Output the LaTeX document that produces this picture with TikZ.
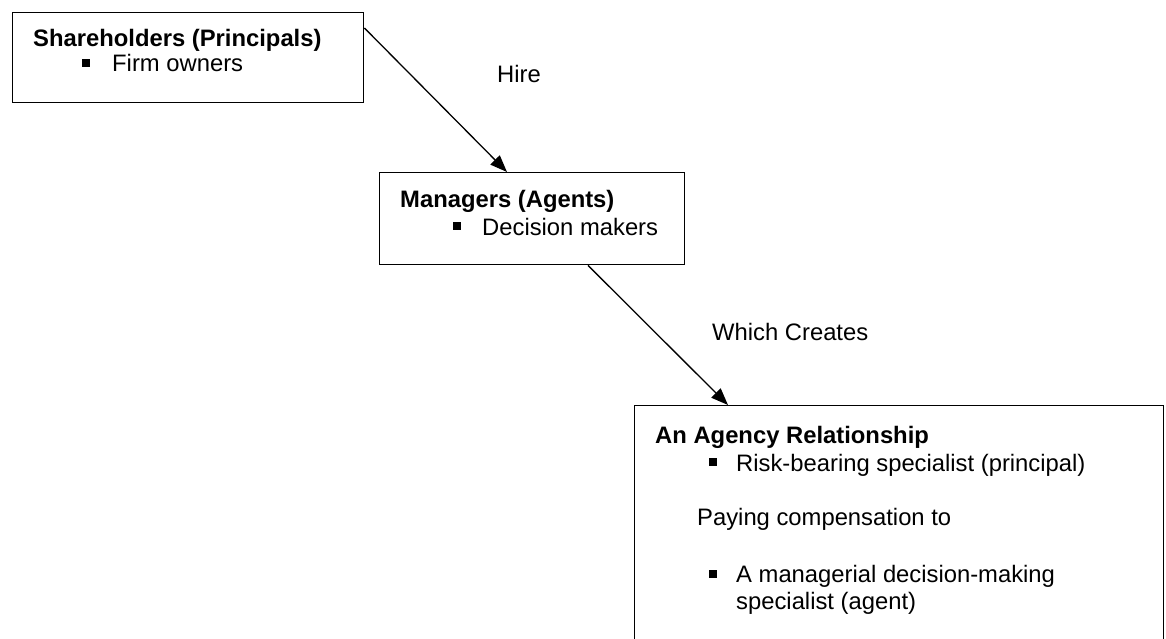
\documentclass[tikz,border=0pt]{standalone}
\usepackage{fontspec}
\setmainfont{Liberation Sans}
\usetikzlibrary{arrows.meta,calc}
\begin{document}
\begin{tikzpicture}[x=1pt,y=-1pt,
  box/.style={draw=black,line width=1.4pt,anchor=north west,inner sep=0pt},
  txt/.style={anchor=base west,inner sep=0pt,font=\fontsize{23.8}{28}\selectfont},
  btxt/.style={txt,font=\fontsize{23.8}{28}\selectfont\bfseries},
  bsq/.style={fill=black,draw=none,minimum size=8pt,inner sep=0pt},
  arr/.style={line width=1.3pt,-{Triangle[length=17pt,width=13pt]}}]
\clip (0,0) rectangle (1166,639);
\useasboundingbox (0,0) rectangle (1166,639);
% boxes
\node[box,minimum width=351pt,minimum height=90pt] (box1) at (12,12) {};
\node[box,minimum width=305pt,minimum height=92pt] (box2) at (379,172) {};
\node[box,minimum width=529pt,minimum height=260pt] (box3) at (634,405) {};
% box 1 text
\node[btxt] (t1) at (33,47) {Shareholders (Principals)};
\node[bsq] (b1) at (86,63) {};
\node[txt] (t1b) at (112,72) {Firm owners};
% box 2 text
\node[btxt] (t2) at (400,207) {Managers (Agents)};
\node[bsq] (b2) at (457,226) {};
\node[txt] (t2b) at (482,235) {Decision makers};
% box 3 text
\node[btxt] (t3) at (655,443) {An Agency Relationship};
\node[bsq] (b3) at (713,462) {};
\node[txt] (t3b) at (736,471) {Risk-bearing specialist (principal)};
\node[txt] (t3c) at (697,525) {Paying compensation to};
\node[bsq] (b4) at (713,574) {};
\node[txt] (t3d) at (736,582) {A managerial decision-making};
\node[txt] (t3e) at (736,609) {specialist (agent)};
% labels
\node[txt] (hire) at (497,83) {Hire};
\node[txt] (wc) at (712,340) {Which Creates};
% arrows
\draw[arr] ($(box1.north east)+(0,16)$) -- ($(box2.north west)+(128,0)$);
\draw[arr] ($(box2.south west)+(209,0)$) -- ($(box3.north west)+(94,0)$);
\end{tikzpicture}
\end{document}
